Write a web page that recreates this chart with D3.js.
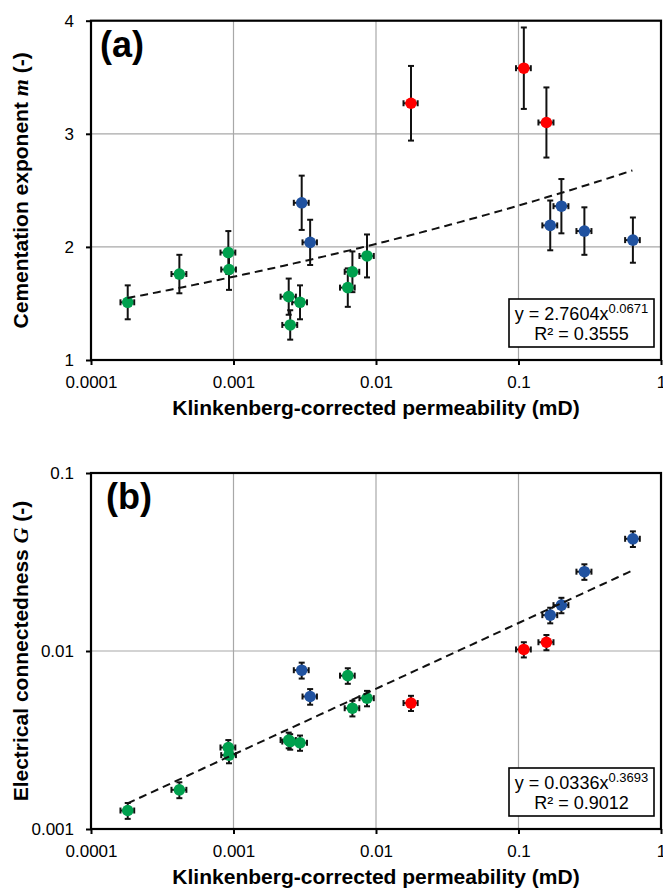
<!DOCTYPE html>
<html>
<head>
<meta charset="utf-8">
<script src="https://cdn.jsdelivr.net/npm/d3@7"></script>
<style>
  html, body { margin: 0; padding: 0; background: #fff; }
  svg { display: block; }
  text { font-family: "Liberation Sans", Arial, sans-serif; fill: #000; }
</style>
</head>
<body>
<svg id="chart" width="663" height="890"></svg>
<script>
// ---- Sample groups: Klinkenberg-corrected permeability k (mD) and its error ----
const kGreen    = [0.000181, 0.000417, 0.00092, 0.00093, 0.00244, 0.00250, 0.00293, 0.00634, 0.00683, 0.00865];
const kErrGreen = [0.00002, 0.00005, 0.00011, 0.00011, 0.0003, 0.0003, 0.00035, 0.00075, 0.0008, 0.001];
const kBlue     = [0.00301, 0.00345, 0.167, 0.200, 0.290, 0.635];
const kErrBlue  = [0.00036, 0.0004, 0.02, 0.024, 0.035, 0.075];
const kRed      = [0.0176, 0.109, 0.157];
const kErrRed   = [0.002, 0.013, 0.019];

// ---- Panel (a): cementation exponent m ----
const mGreen    = [1.51, 1.76, 1.95, 1.80, 1.56, 1.31, 1.51, 1.64, 1.78, 1.92];
const mErrGreen = [0.15, 0.17, 0.19, 0.18, 0.16, 0.13, 0.15, 0.17, 0.18, 0.19];
const mBlue     = [2.39, 2.04, 2.19, 2.36, 2.14, 2.06];
const mErrBlue  = [0.24, 0.20, 0.22, 0.24, 0.21, 0.20];
const mRed      = [3.27, 3.58, 3.10];
const mErrRed   = [0.33, 0.36, 0.31];

// ---- Panel (b): electrical connectedness G ----
const gGreen    = [0.00127, 0.00166, 0.00287, 0.00260, 0.00316, 0.00310, 0.00305, 0.00727, 0.00477, 0.00543];
const gErrGreen = [0.00013, 0.00017, 0.00029, 0.00026, 0.00032, 0.00031, 0.00030, 0.00073, 0.00048, 0.00054];
const gBlue     = [0.0078, 0.00555, 0.0159, 0.0181, 0.0279, 0.0427];
const gErrBlue  = [0.0008, 0.00056, 0.0016, 0.0018, 0.0028, 0.0043];
const gRed      = [0.0051, 0.0102, 0.0112];
const gErrRed   = [0.0005, 0.0010, 0.0011];

// ---- Power-law fits y = a·k^b ----
const fitA = [2.7604, 0.0671];
const fitB = [0.0336, 0.3693];
const r2A = "0.3555";
const r2B = "0.9012";
const fitRange = [0.00018, 0.63];

// ---- Axis ticks ----
const xTicks = [0.0001, 0.001, 0.01, 0.1, 1];
const xTickLabels = ["0.0001", "0.001", "0.01", "0.1", "1"];
const aTicks = [1, 2, 3, 4];
const aTickLabels = ["1", "2", "3", "4"];
const bTicks = [0.001, 0.01, 0.1];
const bTickLabels = ["0.001", "0.01", "0.1"];

const colors = { green: "#00a04e", blue: "#2052a0", red: "#ff0000" };

const svg = d3.select("#chart");
const left = 91, right = 661;

const x = d3.scaleLog().domain([0.0001, 1]).range([left, right]);

const panels = [
  {
    tag: "(a)", top: 20.7, bottom: 360,
    y: d3.scaleLinear().domain([1, 4]).range([360, 20.7]),
    ticks: aTicks, tickLabels: aTickLabels, grid: [2, 3],
    groups: [
      { k: kGreen, kErr: kErrGreen, v: mGreen, vErr: mErrGreen, c: colors.green },
      { k: kBlue,  kErr: kErrBlue,  v: mBlue,  vErr: mErrBlue,  c: colors.blue },
      { k: kRed,   kErr: kErrRed,   v: mRed,   vErr: mErrRed,   c: colors.red }
    ],
    fit: fitA, r2: r2A,
    title: ["Cementation exponent ", "m", " (-)"]
  },
  {
    tag: "(b)", top: 473, bottom: 829,
    y: d3.scaleLog().domain([0.001, 0.1]).range([829, 473]),
    ticks: bTicks, tickLabels: bTickLabels, grid: [0.01],
    groups: [
      { k: kGreen, kErr: kErrGreen, v: gGreen, vErr: gErrGreen, c: colors.green },
      { k: kBlue,  kErr: kErrBlue,  v: gBlue,  vErr: gErrBlue,  c: colors.blue },
      { k: kRed,   kErr: kErrRed,   v: gRed,   vErr: gErrRed,   c: colors.red }
    ],
    fit: fitB, r2: r2B,
    title: ["Electrical connectedness ", "G", " (-)"]
  }
];

panels.forEach((p, pi) => {
  const g = svg.append("g");
  const y = p.y;

  // grid lines
  g.selectAll(".vgrid").data(xTicks.slice(1, -1)).join("line")
    .attr("x1", d => x(d)).attr("x2", d => x(d))
    .attr("y1", p.top).attr("y2", p.bottom)
    .attr("stroke", "#a8a8a8").attr("stroke-width", 1.2);
  g.selectAll(".hgrid").data(p.grid).join("line")
    .attr("x1", left).attr("x2", right)
    .attr("y1", d => y(d)).attr("y2", d => y(d))
    .attr("stroke", "#a8a8a8").attr("stroke-width", 1.2);

  // axes
  const xAxis = d3.axisBottom(x).tickValues(xTicks)
    .tickFormat((d, i) => xTickLabels[i]).tickSize(5).tickSizeOuter(0);
  const gx = g.append("g").attr("transform", `translate(0,${p.bottom})`).call(xAxis);
  gx.select(".domain").remove();
  gx.selectAll(".tick line").attr("stroke", "#000").attr("stroke-width", 2);
  gx.selectAll(".tick text").attr("font-size", 17).attr("font-family", "Liberation Sans, Arial, sans-serif")
    .attr("y", 16).attr("fill", "#111");

  const yAxis = d3.axisLeft(y).tickValues(p.ticks)
    .tickFormat((d, i) => p.tickLabels[i]).tickSize(5).tickSizeOuter(0);
  const gy = g.append("g").attr("transform", `translate(${left},0)`).call(yAxis);
  gy.select(".domain").remove();
  gy.selectAll(".tick line").attr("stroke", "#000").attr("stroke-width", 2);
  gy.selectAll(".tick text").attr("font-size", 17).attr("font-family", "Liberation Sans, Arial, sans-serif")
    .attr("x", -17).attr("fill", "#111");

  // plot frame
  g.append("rect").attr("x", left).attr("y", p.top)
    .attr("width", right - left).attr("height", p.bottom - p.top)
    .attr("fill", "none").attr("stroke", "#000").attr("stroke-width", 2.2);

  // error bars
  const eb = g.append("g").attr("stroke", "#111").attr("stroke-width", 2).attr("fill", "none");
  p.groups.forEach(grp => {
    grp.k.forEach((kv, i) => {
      const cx = x(kv), cy = y(grp.v[i]);
      const yT = y(grp.v[i] + grp.vErr[i]), yB = y(grp.v[i] - grp.vErr[i]);
      const xL = x(kv - grp.kErr[i]), xR = x(kv + grp.kErr[i]);
      eb.append("line").attr("x1", cx).attr("x2", cx).attr("y1", yT).attr("y2", yB);
      eb.append("line").attr("x1", cx - 3).attr("x2", cx + 3).attr("y1", yT).attr("y2", yT);
      eb.append("line").attr("x1", cx - 3).attr("x2", cx + 3).attr("y1", yB).attr("y2", yB);
      eb.append("line").attr("x1", xL).attr("x2", xR).attr("y1", cy).attr("y2", cy);
      eb.append("line").attr("x1", xL).attr("x2", xL).attr("y1", cy - 3).attr("y2", cy + 3);
      eb.append("line").attr("x1", xR).attr("x2", xR).attr("y1", cy - 3).attr("y2", cy + 3);
    });
  });

  // markers
  p.groups.forEach(grp => {
    g.append("g").selectAll("circle").data(grp.k).join("circle")
      .attr("cx", d => x(d)).attr("cy", (d, i) => y(grp.v[i]))
      .attr("r", 5.8).attr("fill", grp.c);
  });

  // power-law trendline
  const samples = d3.range(0, 101).map(t => {
    const lk = Math.log10(fitRange[0]) + (Math.log10(fitRange[1]) - Math.log10(fitRange[0])) * t / 100;
    const kv = Math.pow(10, lk);
    return [kv, p.fit[0] * Math.pow(kv, p.fit[1])];
  });
  g.append("path").datum(samples)
    .attr("d", d3.line().x(d => x(d[0])).y(d => y(d[1])))
    .attr("fill", "none").attr("stroke", "#111").attr("stroke-width", 2)
    .attr("stroke-dasharray", "8,5");

  // equation box
  const bx = 509, bw = 145, bh = 48, by = p.bottom - 61;
  g.append("rect").attr("x", bx).attr("y", by).attr("width", bw).attr("height", bh)
    .attr("fill", "#fff").attr("stroke", "#000").attr("stroke-width", 1.6);
  const eq = g.append("text").attr("x", bx + bw / 2).attr("y", by + 21)
    .attr("text-anchor", "middle").attr("font-size", 18).attr("fill", "#222");
  eq.append("tspan").text(`y = ${p.fit[0].toFixed(4)}x`);
  eq.append("tspan").attr("dy", -7).attr("font-size", 13).text(p.fit[1].toFixed(4));
  g.append("text").attr("x", bx + bw / 2).attr("y", by + 41)
    .attr("text-anchor", "middle").attr("font-size", 18).attr("fill", "#222")
    .text(`R² = ${p.r2}`);

  // panel tag
  g.append("text").attr("x", pi === 0 ? 100 : 106).attr("y", p.top + 36)
    .attr("font-size", 36).attr("font-weight", "bold").text(p.tag);

  // axis titles
  g.append("text").attr("x", (left + right) / 2).attr("y", p.bottom + 55)
    .attr("text-anchor", "middle").attr("font-size", 21).attr("font-weight", "bold")
    .text("Klinkenberg-corrected permeability (mD)");

  const yt = g.append("text")
    .attr("transform", `translate(28,${(p.top + p.bottom) / 2}) rotate(-90)`)
    .attr("text-anchor", "middle").attr("font-size", 21).attr("font-weight", "bold");
  yt.append("tspan").text(p.title[0]);
  yt.append("tspan").attr("font-family", "Liberation Serif, 'Times New Roman', serif")
    .attr("font-style", "italic").attr("font-size", 22).text(p.title[1]);
  yt.append("tspan").text(p.title[2]);
});
</script>
</body>
</html>
